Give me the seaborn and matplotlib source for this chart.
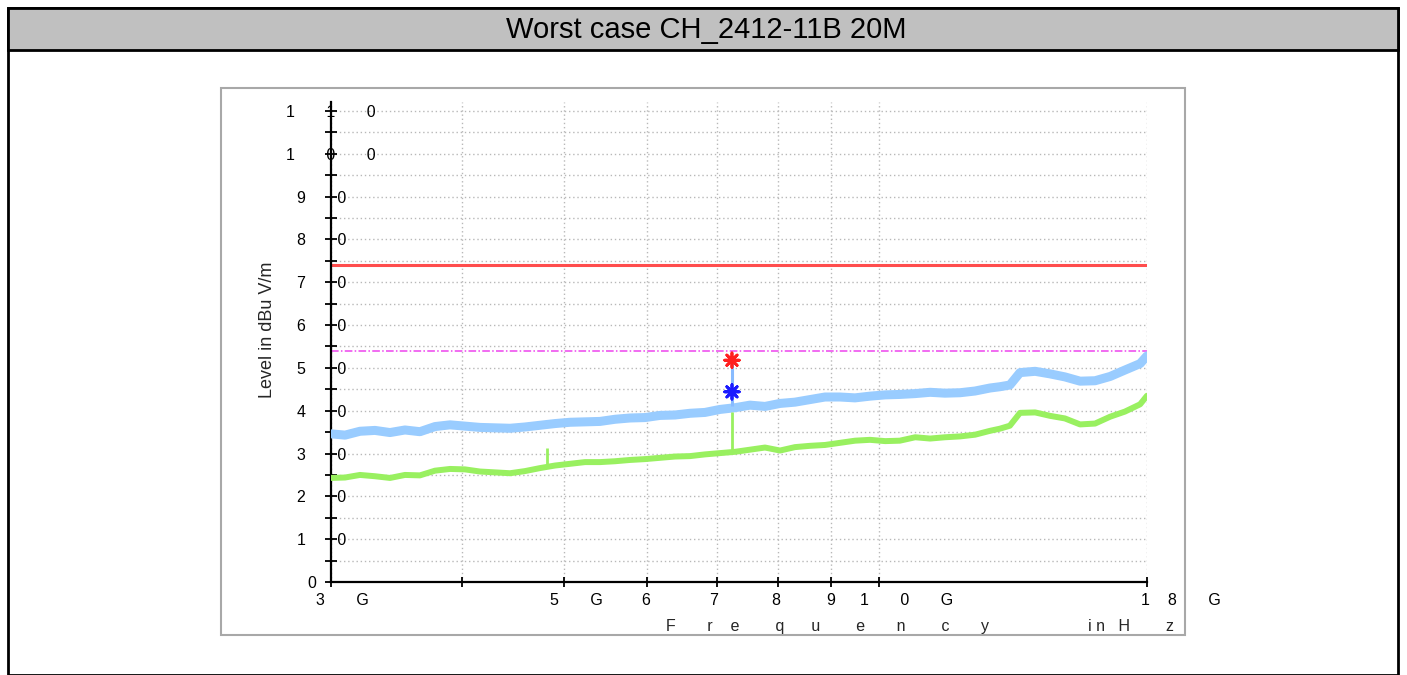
import numpy as np
import pandas as pd
import matplotlib
matplotlib.use("Agg")
import matplotlib.pyplot as plt
from matplotlib.patches import Rectangle
from matplotlib.ticker import NullLocator
from matplotlib.transforms import ScaledTranslation
import seaborn as sns

# -----------------------------
# Data
# -----------------------------
freq_ghz = [3.000, 3.094, 3.197, 3.304, 3.415, 3.529, 3.647, 3.770, 3.896, 4.026,
            4.161, 4.301, 4.445, 4.593, 4.747, 4.906, 5.070, 5.240, 5.416, 5.597,
            5.784, 5.978, 6.178, 6.385, 6.599, 6.820, 7.048, 7.284, 7.528, 7.780,
            8.041, 8.310, 8.588, 8.876, 9.173, 9.480, 9.798, 10.13, 10.46, 10.82,
            11.18, 11.55, 11.94, 12.34, 12.75, 13.03, 13.32, 13.62, 14.08, 14.55,
            15.03, 15.54, 16.06, 16.60, 17.15, 17.73, 18.00]

peak_level = [34.6, 34.3, 35.2, 35.4, 34.9, 35.5, 35.1, 36.3, 36.7, 36.4,
              36.1, 36.0, 35.9, 36.2, 36.6, 37.0, 37.3, 37.4, 37.5, 38.0,
              38.3, 38.4, 38.9, 39.0, 39.4, 39.6, 40.3, 40.7, 41.3, 41.0,
              41.7, 42.0, 42.6, 43.2, 43.2, 43.0, 43.4, 43.7, 43.8, 44.0,
              44.3, 44.1, 44.2, 44.6, 45.3, 45.6, 46.0, 48.9, 49.2, 48.6,
              47.9, 46.9, 47.0, 48.0, 49.5, 51.0, 52.8]

avg_level = [24.3, 24.4, 25.0, 24.7, 24.3, 25.0, 24.9, 26.0, 26.4, 26.3,
             25.8, 25.6, 25.4, 25.9, 26.6, 27.2, 27.6, 28.0, 28.0, 28.2,
             28.5, 28.7, 29.0, 29.3, 29.4, 29.8, 30.1, 30.4, 30.9, 31.4,
             30.7, 31.5, 31.8, 32.0, 32.5, 33.0, 33.2, 32.9, 33.0, 33.8,
             33.5, 33.8, 34.0, 34.4, 35.3, 35.8, 36.5, 39.5, 39.6, 38.8,
             38.2, 36.8, 37.0, 38.6, 39.8, 41.5, 43.5]

# harmonic spikes
avg_spike_freq = [4.824, 7.236]
avg_spike_base = [26.6, 30.4]
avg_spike_top = [31.3, 39.7]
peak_spike_freq = [7.236]
peak_spike_base = [41.0]
peak_spike_top = [51.8]

# final measurement markers
marker_freq = [7.236, 7.236]
marker_level = [51.8, 44.4]
marker_kind = ["peak", "avg"]

limit_peak = 74
limit_avg = 54

y_ticks = list(range(0, 111, 10))
y_minor = list(range(5, 110, 10))
x_ticks = [3, 4, 5, 6, 7, 8, 9, 10, 18]


def spread(chars, gap=7):
    return (" " * gap).join(chars)


y_labels = ["0    "] + [spread(str(v)) for v in y_ticks[1:10]] + \
           ["    " + spread(str(v)) for v in y_ticks[10:]]
x_labels = [spread("3G"), "", spread("5G"), "6", "7", "8", "9",
            spread("10G"), "1    8       G"]
# horizontal alignment / pixel shift of each x tick label
x_label_ha = ["left", "center", "left", "center", "center", "center", "center", "left", "left"]
x_label_dx = [-15, 0, -14, -1, -3, -2, -1, -19, -6]
x_title = ("F       r    e        q      u        e       n        c       y"
           + " " * 22 + "i n   H        z")

# -----------------------------
# Figure
# -----------------------------
sns.set_style("white")
plt.rcParams["font.family"] = ["Liberation Sans", "DejaVu Sans"]

fig = plt.figure(figsize=(14.07, 6.75), dpi=100)

# report frame + title bar
fig.add_artist(Rectangle((8 / 1407, 0), 1390 / 1407, 667 / 675, transform=fig.transFigure,
                         facecolor="white", edgecolor="black", lw=2, zorder=0))
fig.add_artist(Rectangle((8 / 1407, 625 / 675), 1390 / 1407, 42 / 675, transform=fig.transFigure,
                         facecolor="#c0c0c0", edgecolor="black", lw=2, zorder=0))
fig.text(706 / 1407, 1 - 30 / 675, "Worst case CH_2412-11B 20M", ha="center", va="center",
         fontsize=21, color="black")
# inner chart frame
fig.add_artist(Rectangle((221 / 1407, 40 / 675), 964 / 1407, 547 / 675, transform=fig.transFigure,
                         facecolor="white", edgecolor="#a8a8a8", lw=1.5, zorder=0))

ax = fig.add_axes([331 / 1407, 93 / 675, 816 / 1407, 479.6 / 675])
ax.patch.set_alpha(0)

df = pd.DataFrame({"freq": freq_ghz, "peak": peak_level, "avg": avg_level})
sns.lineplot(data=df, x="freq", y="peak", color="#99ccff", lw=6.5, ax=ax, zorder=3)
sns.lineplot(data=df, x="freq", y="avg", color="#99f060", lw=4.3, ax=ax, zorder=4)

ax.vlines(peak_spike_freq, peak_spike_base, peak_spike_top, color="#88bbff", lw=2.2, zorder=5)
ax.vlines(avg_spike_freq, avg_spike_base, avg_spike_top, color="#99f060", lw=2.0, zorder=5)

mk = pd.DataFrame({"freq": marker_freq, "level": marker_level, "kind": marker_kind})
sns.scatterplot(data=mk, x="freq", y="level", hue="kind",
                palette={"peak": "#ff2020", "avg": "#1a1aff"},
                marker=(8, 2, 0), s=110, linewidth=2, legend=False, ax=ax, zorder=6)

ax.axhline(limit_peak, color="#ff4d4d", lw=2.2, zorder=2)
ax.axhline(limit_avg, color="#ee44ee", lw=1.1, ls=(0, (5, 1.5, 1, 1.5)), zorder=2)

# axes / ticks
ax.set_xscale("log")
ax.set_xlim(3, 18)
ax.set_ylim(0, 112)
ax.set_xticks(x_ticks)
ax.set_xticklabels(x_labels)
ax.xaxis.set_minor_locator(NullLocator())
ax.set_yticks(y_ticks)
ax.set_yticklabels(y_labels)
ax.set_yticks(y_minor, minor=True)

ax.tick_params(axis="y", which="both", left=True, direction="inout", length=8.6, width=1.3,
               pad=2.5, labelsize=11.5, colors="black")
ax.tick_params(axis="x", which="major", bottom=True, direction="inout", length=7.2, width=1.3,
               pad=4.4, labelsize=11.5, colors="black")

plt.setp(ax.get_yticklabels(), ha="center")
for lab, ha, dx in zip(ax.get_xticklabels(), x_label_ha, x_label_dx):
    lab.set_ha(ha)
    lab.set_transform(lab.get_transform() + ScaledTranslation(dx / 100, 0, fig.dpi_scale_trans))

ax.grid(axis="y", which="both", color="#b8b8b8", ls=(0, (1, 2)), lw=1)
ax.grid(axis="x", which="major", color="#b8b8b8", ls=(0, (1, 2)), lw=1)

for side in ["top", "right"]:
    ax.spines[side].set_visible(False)
for side in ["left", "bottom"]:
    ax.spines[side].set_color("black")
    ax.spines[side].set_linewidth(1.6)

ax.set_xlabel(x_title, fontsize=11.5, ha="right", va="center")
ax.xaxis.set_label_coords((1174 - 331) / 816, (582 - 627) / 479.6)
ax.set_ylabel("Level in dBu V/m", fontsize=13, va="center", ha="center")
ax.yaxis.set_label_coords((268 - 331) / 816, (582 - 330) / 479.6)

fig.savefig("out.png", dpi=100)
